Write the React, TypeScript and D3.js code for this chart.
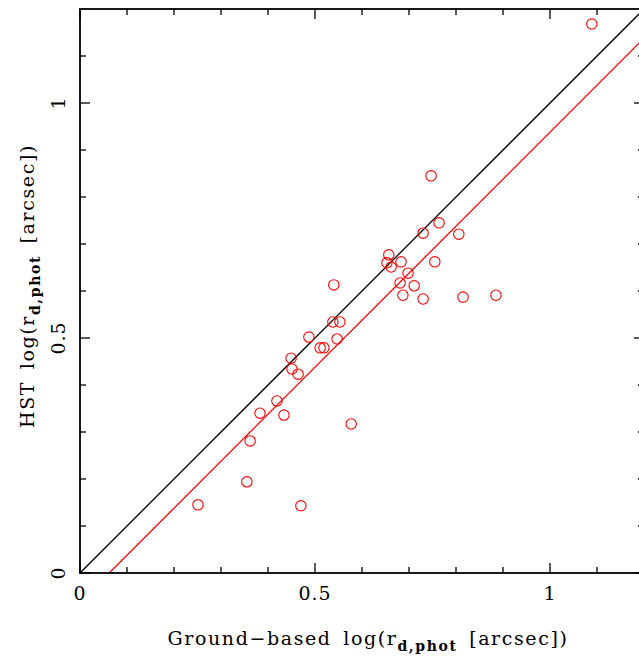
import React from "react";
import * as d3 from "d3";

const groundX = [1.089, 0.747, 0.764, 0.730, 0.806, 0.657, 0.653, 0.662, 0.683, 0.755, 0.698, 0.681, 0.711, 0.687, 0.730, 0.815, 0.885, 0.540, 0.538, 0.553, 0.487, 0.547, 0.511, 0.519, 0.449, 0.451, 0.464, 0.419, 0.383, 0.434, 0.577, 0.362, 0.355, 0.251, 0.470];
const hstY = [1.168, 0.845, 0.745, 0.723, 0.721, 0.677, 0.660, 0.651, 0.662, 0.662, 0.638, 0.617, 0.611, 0.591, 0.583, 0.587, 0.591, 0.613, 0.534, 0.534, 0.502, 0.498, 0.479, 0.479, 0.457, 0.434, 0.423, 0.366, 0.340, 0.336, 0.317, 0.281, 0.194, 0.145, 0.143];
const majorTicks = [0, 0.5, 1];
const majorLabels = ["0", "0.5", "1"];
const minorTicks = [0.1, 0.2, 0.3, 0.4, 0.6, 0.7, 0.8, 0.9, 1.1];
const fitOffset = -0.062;
const domainMax = 1.2;

export default function App() {
  const W = 639, H = 656;
  const left = 80, top = 9, size = 564;
  const x = d3.scaleLinear().domain([0, domainMax]).range([left, left + size]);
  const y = d3.scaleLinear().domain([0, domainMax]).range([top + size, top]);
  const bottom = top + size, right = left + size;
  const font = "'DejaVu Serif', serif";
  const line = d3.line<[number, number]>().x(d => x(d[0])).y(d => y(d[1]));
  const fitStart = -fitOffset;
  const fitPts: [number, number][] = [[fitStart, 0], [domainMax, domainMax + fitOffset]];
  const idPts: [number, number][] = [[0, 0], [domainMax, domainMax]];
  const major = 10, minor = 6;
  return (
    <svg width={W} height={H} style={{ position: "absolute", left: 0, top: 0, background: "#fff" }}>
      <defs>
        <clipPath id="pc"><rect x={left} y={top} width={size} height={size} /></clipPath>
      </defs>
      <g clipPath="url(#pc)">
        <path d={line(idPts) || ""} stroke="#000" strokeWidth={1.3} fill="none" />
        <path d={line(fitPts) || ""} stroke="#ff0000" strokeWidth={1.3} fill="none" />
      </g>
      {groundX.map((gx, i) => (
        <circle key={i} cx={x(gx)} cy={y(hstY[i])} r={5.2} fill="none" stroke="#ff0000" strokeWidth={1.1} />
      ))}
      <rect x={left} y={top} width={size} height={size} fill="none" stroke="#000" strokeWidth={1.8} />
      {majorTicks.concat(minorTicks).map((t, i) => {
        const len = i < majorTicks.length ? major : minor;
        return (
          <g key={"t" + i} stroke="#000" strokeWidth={1.3}>
            <line x1={x(t)} x2={x(t)} y1={bottom} y2={bottom - len} />
            <line x1={x(t)} x2={x(t)} y1={top} y2={top + len} />
            <line x1={left} x2={left + len} y1={y(t)} y2={y(t)} />
            <line x1={right} x2={right - len} y1={y(t)} y2={y(t)} />
          </g>
        );
      })}
      {majorTicks.map((t, i) => (
        <text key={"xl" + i} x={x(t)} y={bottom + 27} textAnchor="middle" fontFamily={font} fontSize={19} letterSpacing={1}>{majorLabels[i]}</text>
      ))}
      {majorTicks.map((t, i) => (
        <text key={"yl" + i} transform={`translate(${left - 15},${y(t)}) rotate(-90)`} textAnchor="middle" fontFamily={font} fontSize={19} letterSpacing={1}>{majorLabels[i]}</text>
      ))}
      <text x={368} y={645} textAnchor="middle" fontFamily={font} fontSize={19} letterSpacing={1.6} wordSpacing={4}>
        Ground−based log(r<tspan dy={6} fontSize={14} fontWeight="bold">d,phot</tspan><tspan dy={-6}> [arcsec])</tspan>
      </text>
      <text transform={`translate(34,286) rotate(-90)`} textAnchor="middle" fontFamily={font} fontSize={19} letterSpacing={1.6} wordSpacing={4}>
        HST log(r<tspan dy={6} fontSize={14} fontWeight="bold">d,phot</tspan><tspan dy={-6}> [arcsec])</tspan>
      </text>
    </svg>
  );
}
